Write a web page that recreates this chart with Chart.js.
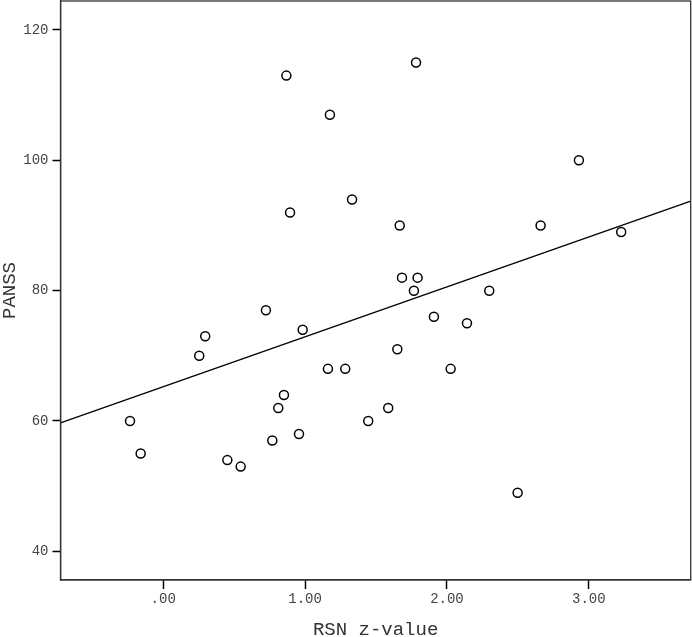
<!DOCTYPE html>
<html>
<head>
<meta charset="utf-8">
<script src="https://cdn.jsdelivr.net/npm/chart.js@4/dist/chart.umd.min.js"></script>
<style>
  html, body { margin: 0; padding: 0; background: #fff; }
  #wrap { width: 692px; height: 637px; }
</style>
</head>
<body>
<div id="wrap"><canvas id="c" width="692" height="637"></canvas></div>
<script>
// RSN z-value (x) and PANSS (y)
const rsnZ = [-0.234, -0.159, 0.254, 0.296, 0.452, 0.546, 0.724, 0.769, 0.811, 0.851,
              0.868, 0.894, 0.957, 0.983, 1.161, 1.175, 1.283, 1.331, 1.445, 1.586,
              1.650, 1.667, 1.683, 1.767, 1.782, 1.793, 1.908, 2.026, 2.141, 2.298,
              2.498, 2.660, 2.930, 3.228];
const panss = [60, 55, 70, 73, 54, 53, 77, 57, 62, 64,
               113, 92, 58, 74, 68, 107, 68, 94, 60, 62,
               71, 90, 82, 80, 115, 82, 76, 68, 75, 80,
               49, 90, 100, 89];
// fit line endpoints
const fitX = [-0.724, 3.718];
const fitY = [59.7, 93.75];
const xTicks = [0, 1, 2, 3];
const xTickLabels = ['.00', '1.00', '2.00', '3.00'];
const yTicks = [40, 60, 80, 100, 120];
const xRange = [-0.724, 3.718];
const yRange = [35.6, 124.45];

const pts = rsnZ.map((x, i) => ({ x: x, y: panss[i] }));
const fit = fitX.map((x, i) => ({ x: x, y: fitY[i] }));

const frame = {
  id: 'frame',
  afterDraw(chart) {
    const a = chart.chartArea, ctx = chart.ctx;
    ctx.save();
    ctx.strokeStyle = '#333';
    ctx.lineWidth = 1.3;
    ctx.strokeRect(a.left, a.top, a.right - a.left, a.bottom - a.top);
    ctx.restore();
  }
};

function noPad(s) {
  s.paddingTop = 0; s.paddingBottom = 0; s.paddingLeft = 0; s.paddingRight = 0;
}

const mono = 'Liberation Mono, Courier New, monospace';

new Chart(document.getElementById('c'), {
  type: 'scatter',
  data: {
    datasets: [
      {
        type: 'line',
        data: fit,
        borderColor: '#000',
        borderWidth: 1.3,
        pointRadius: 0,
        fill: false,
        order: 2
      },
      {
        data: pts,
        pointRadius: 4.5,
        pointBorderWidth: 1.5,
        pointBorderColor: '#000',
        pointBackgroundColor: '#fff',
        order: 1
      }
    ]
  },
  plugins: [frame],
  options: {
    responsive: false,
    devicePixelRatio: 1,
    animation: false,
    layout: { autoPadding: false, padding: { top: 1, right: 1.3, left: 0, bottom: 0 } },
    plugins: { legend: { display: false }, tooltip: { enabled: false } },
    scales: {
      x: {
        type: 'linear',
        min: xRange[0], max: xRange[1],
        afterBuildTicks(s) { s.ticks = xTicks.map(v => ({ value: v })); },
        afterFit(s) { s.height = 57; noPad(s); },
        ticks: {
          callback: (v) => xTickLabels[xTicks.indexOf(v)],
          font: { family: mono, size: 14 },
          color: '#444',
          padding: 2,
          maxRotation: 0
        },
        grid: { drawOnChartArea: false, drawTicks: true, tickLength: 9, tickColor: '#000', tickWidth: 1.5 },
        border: { display: true, color: '#333', width: 1.3 },
        title: {
          display: true, text: 'RSN z-value',
          font: { family: mono, size: 19, lineHeight: 1 },
          color: '#333',
          padding: { top: 0, bottom: -2 }
        }
      },
      y: {
        type: 'linear',
        min: yRange[0], max: yRange[1],
        afterBuildTicks(s) { s.ticks = yTicks.map(v => ({ value: v })); },
        afterFit(s) { s.width = 60.5; noPad(s); },
        ticks: {
          font: { family: mono, size: 14 },
          color: '#444',
          padding: 4
        },
        grid: { drawOnChartArea: false, drawTicks: true, tickLength: 8, tickColor: '#000', tickWidth: 1.5 },
        border: { display: true, color: '#333', width: 1.3 },
        title: {
          display: true, text: 'PANSS',
          font: { family: mono, size: 19, lineHeight: 1 },
          color: '#333',
          padding: { top: 0, bottom: 0 }
        }
      }
    }
  }
});
</script>
</body>
</html>
